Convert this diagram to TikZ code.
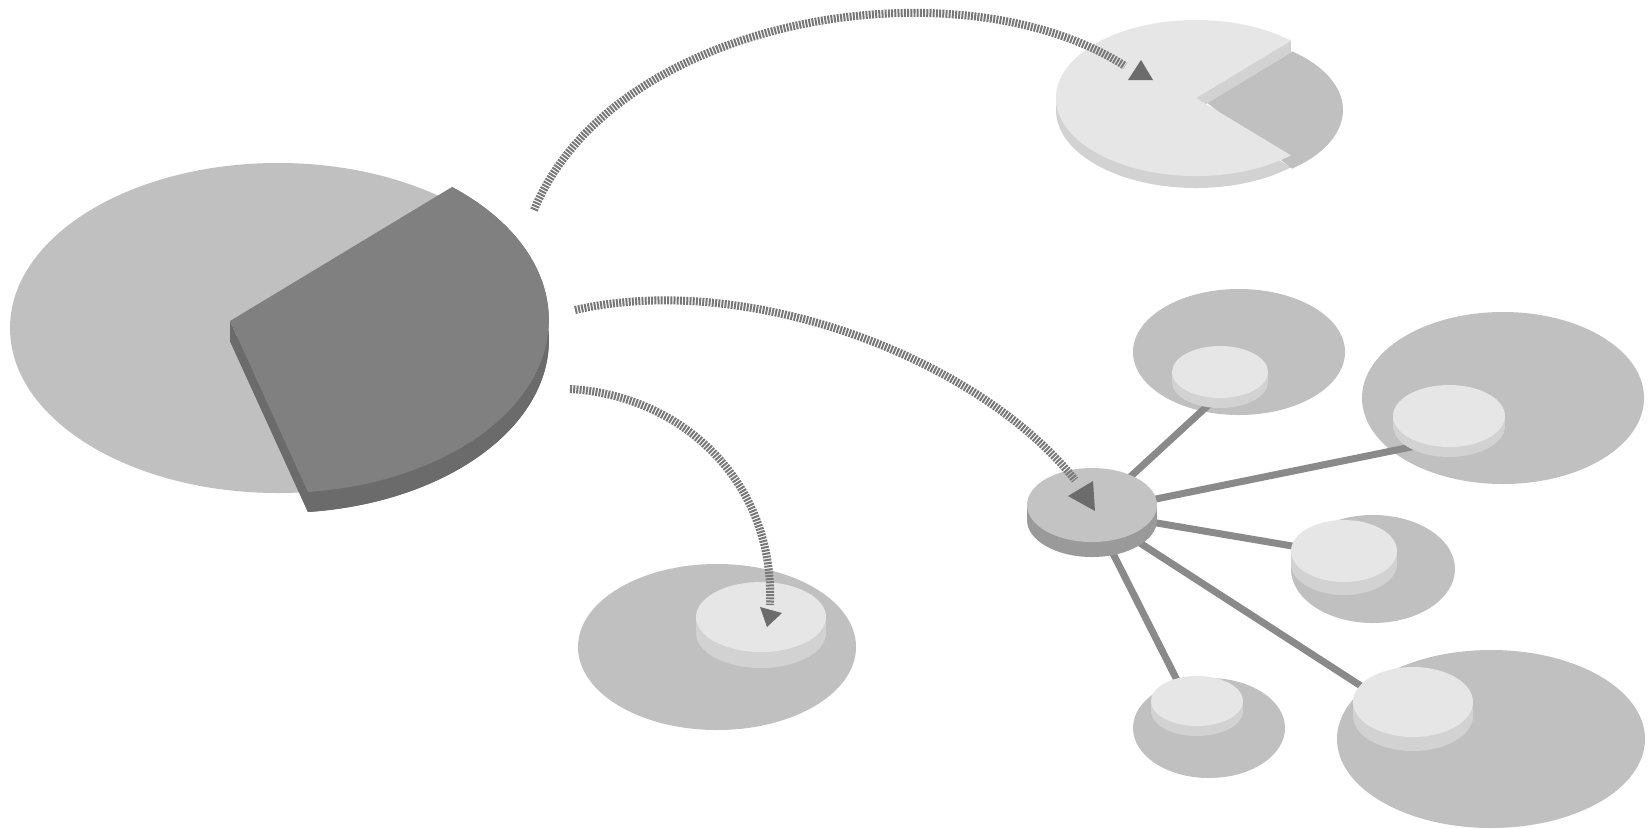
\documentclass[tikz,border=0pt]{standalone}
\usetikzlibrary{calc}
\definecolor{ellgray}{HTML}{C0C0C0}
\definecolor{slicetop}{HTML}{808080}
\definecolor{sliceside}{HTML}{6B6B6B}
\definecolor{lighttop}{HTML}{E6E6E6}
\definecolor{lightside}{HTML}{D2D2D2}
\definecolor{hubtop}{HTML}{C3C3C3}
\definecolor{hubside}{HTML}{9A9A9A}
\definecolor{linkgray}{HTML}{8A8A8A}
\definecolor{arrowgray}{HTML}{787878}
\newcommand\mycyl[8]{% name, cx, cy, rx, ry, thickness, top colour, side colour
  \coordinate (#1) at (#2,#3);
  \fill[#8] (#2,#3+#6) ellipse[x radius=#4pt, y radius=#5pt];
  \fill[#8] (#2-#4,#3) rectangle (#2+#4,#3+#6);
  \fill[#7] (#2,#3) ellipse[x radius=#4pt, y radius=#5pt];
}
\tikzset{
  link/.style={draw=linkgray, line width=7pt},
  dotarrow/.style={draw=arrowgray, line width=8pt, dash pattern=on 2pt off 1.2pt},
  headtip/.style={fill=arrowgray!90!black}
}
\begin{document}
\begin{tikzpicture}[x=1pt,y=-1pt]
\useasboundingbox (0,0) rectangle (1648,828);
\fill[white] (0,0) rectangle (1648,828);

% ---- big pie
\coordinate (bigc) at (278,328);
\fill[ellgray] (bigc) ellipse[x radius=268pt,y radius=165pt];
\fill[sliceside] (230,341) -- (452,207) arc[start angle=50.2,end angle=-84,x radius=269pt,y radius=173pt] -- cycle;
\fill[sliceside] (230,321) -- (308,492) -- (308,512) -- (230,341) -- cycle;
\fill[sliceside] (452,187) arc[start angle=50.2,end angle=-84,x radius=269pt,y radius=173pt] -- (308,512) arc[start angle=-84,end angle=50.2,x radius=269pt,y radius=173pt] -- cycle;
\fill[slicetop] (230,321) -- (452,187) arc[start angle=50.2,end angle=-84,x radius=269pt,y radius=173pt] -- cycle;

% ---- top right pie
\coordinate (tpc) at (1196,98);
\fill[lightside] (1196,110) -- (1290.9,52.7) arc[start angle=47.3,end angle=312.7,x radius=140pt,y radius=78pt] -- cycle;
\fill[ellgray] (1206,102) -- (1292,51.3) arc[start angle=51.5,end angle=-51.5,x radius=135pt,y radius=75pt] -- cycle;
\fill[lightside] (1196,98) -- (1290.9,40.7) -- (1290.9,52.7) -- (1196,110) -- cycle;
\fill[lighttop] (tpc) -- (1290.9,40.7) arc[start angle=47.3,end angle=312.7,x radius=140pt,y radius=78pt] -- cycle;

% ---- bottom middle group
\fill[ellgray] (717,647) ellipse[x radius=139pt,y radius=83pt];
\mycyl{cylM}{761}{617}{65}{35}{16}{lighttop}{lightside}

% ---- right cluster: large discs
\fill[ellgray] (1239,352) ellipse[x radius=106pt,y radius=63pt];
\fill[ellgray] (1503,398) ellipse[x radius=141pt,y radius=86pt];
\fill[ellgray] (1373,569) ellipse[x radius=82pt,y radius=54pt];
\fill[ellgray] (1209,728) ellipse[x radius=76pt,y radius=50pt];
\fill[ellgray] (1491,739) ellipse[x radius=154pt,y radius=89pt];

% ---- links
\coordinate (hubport) at (1092,512);
\coordinate (pA) at (1216,398);
\coordinate (pB) at (1416,446);
\coordinate (pC) at (1304,548);
\coordinate (pD) at (1183,692);
\coordinate (pE) at (1375,695);
\draw[link] (hubport) -- (pA);
\draw[link] (hubport) -- (pB);
\draw[link] (hubport) -- (pC);
\draw[link] (hubport) -- (pD);
\draw[link] (hubport) -- (pE);

% ---- small discs
\mycyl{cylA}{1220}{372}{48}{26}{10}{lighttop}{lightside}
\mycyl{cylB}{1449}{416}{56}{31}{10}{lighttop}{lightside}
\mycyl{cylC}{1344}{551}{53}{31}{13}{lighttop}{lightside}
\mycyl{cylD}{1197}{701}{46}{25}{10}{lighttop}{lightside}
\mycyl{cylE}{1413}{702}{60}{35}{14}{lighttop}{lightside}
\mycyl{hub}{1092}{505}{65}{37}{15}{hubtop}{hubside}

% ---- dotted arrows
\coordinate (a1s) at (534,210);
\coordinate (a1e) at (1125,66);
\coordinate (a2s) at (575,310);
\coordinate (a2e) at (1075,480);
\coordinate (a3s) at (570,389);
\coordinate (a3e) at (770,605);
\draw[dotarrow] (a1s) .. controls (615,15) and (960,-40) .. (a1e);
\draw[dotarrow] (a2s) .. controls (750,270) and (980,360) .. (a2e);
\draw[dotarrow] (a3s) .. controls (680,395) and (775,480) .. (a3e);
\fill[headtip] (1128,80) -- (1153,80) -- (1141,60) -- cycle;
\fill[headtip] (1068,496) -- (1093,481) -- (1095,511) -- cycle;
\fill[headtip] (760,607) -- (782,613) -- (767,627) -- cycle;
\end{tikzpicture}
\end{document}
